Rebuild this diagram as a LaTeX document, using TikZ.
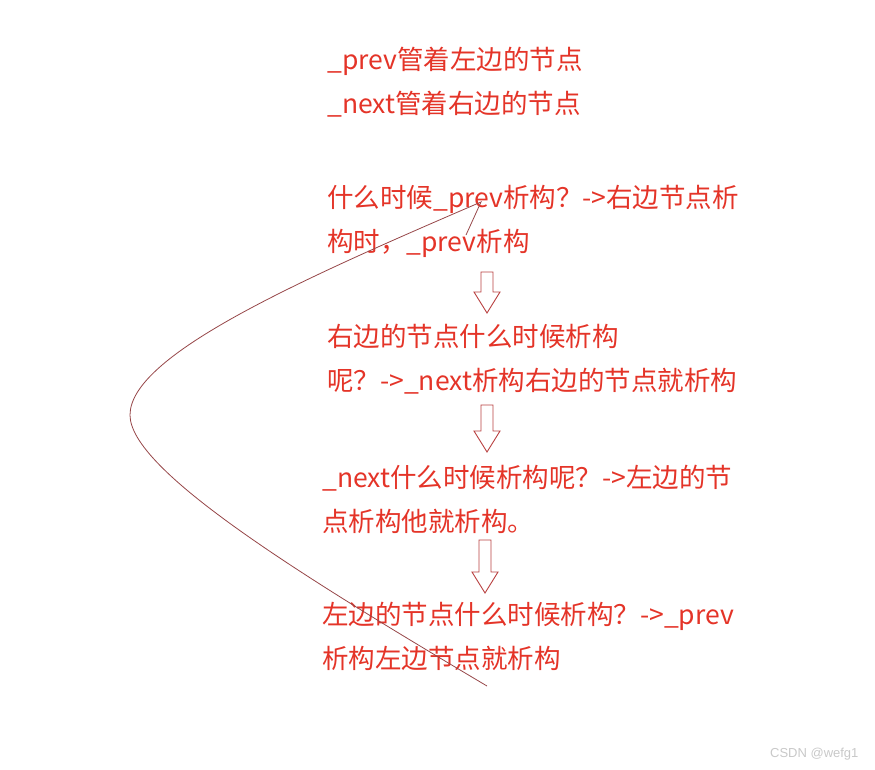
\documentclass[tikz,border=0pt]{standalone}
\usepackage{fontspec}
\newfontfamily\cjk{Noto Sans CJK SC}
\setsansfont{Liberation Sans}
\usetikzlibrary{positioning}
\definecolor{notered}{RGB}{228,52,40}
\definecolor{arrowred}{RGB}{185,65,65}
\definecolor{penbrown}{RGB}{150,70,72}
\definecolor{markgray}{RGB}{200,200,200}
\tikzset{
  note/.style={anchor=base west,inner sep=0pt,align=left,text=notered,
    font=\cjk\fontsize{26.5}{44}\selectfont},
  pen/.style={penbrown,line width=0.8pt},
  % hollow down arrow, #1 = length
  pics/downarrow/.style={code={
    \draw[arrowred,fill=white,line width=0.9pt] (-6,0) -- (-6,#1-21) -- (-13,#1-21)
      -- (0,#1) -- (13,#1-21) -- (6,#1-21) -- (6,0) -- cycle;
  }},
}

\begin{document}
\begin{tikzpicture}[x=1pt,y=-1pt]
  \useasboundingbox (0,0) rectangle (875,769);
  % base of each note = baseline of its last line
  \node[note] (owners) at (327,113) {\_prev管着左边的节点\\\_next管着右边的节点};
  \node[note] (askprev) at (327,251) {什么时候\_prev析构？->右边节点析\\构时，\_prev析构};
  \node[note] (askright) at (327,390) {右边的节点什么时候析构\\呢？->\_next析构右边的节点就析构};
  \node[note] (asknext) at (322,531) {\_next什么时候析构呢？->左边的节\\点析构他就析构。};
  \node[note] (askleft) at (322,668) {左边的节点什么时候析构？->\_prev\\析构左边节点就析构};
  \pic at (487,272) {downarrow=41};
  \pic at (487,405) {downarrow=47};
  \pic at (485,540) {downarrow=53};
  % loop drawn by hand
  \coordinate (penstart) at (487,686);
  \coordinate (pentip) at (481,202);
  \draw[pen] (penstart) .. controls (300,575) and (130,470) .. (130,415)
    .. controls (130,355) and (300,280) .. (pentip) -- ++(-15,33);
  \node[font=\sffamily\fontsize{13}{13}\selectfont,text=markgray,anchor=base east] (mark) at (862,757) {CSDN @wefg1};
\end{tikzpicture}
\end{document}
